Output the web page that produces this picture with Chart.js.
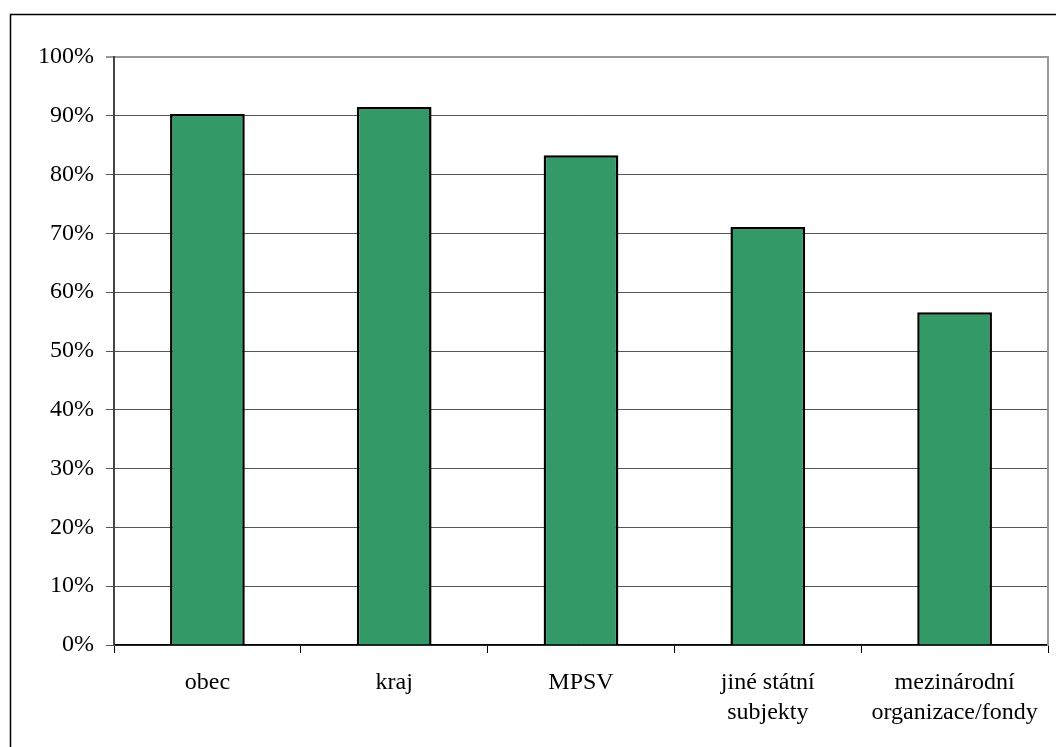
<!DOCTYPE html>
<html>
<head>
<meta charset="utf-8">
<script src="https://cdn.jsdelivr.net/npm/chart.js@4/dist/chart.umd.min.js"></script>
<style>
  html, body { margin: 0; padding: 0; background: #fff; }
  .chart { position: relative; width: 1056px; height: 747px; }
</style>
</head>
<body>
<div class="chart"><canvas id="chart"></canvas></div>
<script>
const categories = ['obec', 'kraj', 'MPSV', ['jiné státní', 'subjekty'], ['mezinárodní', 'organizace/fondy']];
const shares = [90.3, 91.5, 83.3, 71.1, 56.6];
const yTicks = [0, 10, 20, 30, 40, 50, 60, 70, 80, 90, 100];

const FONT = '"Liberation Serif", "Times New Roman", serif';

// thin frame along the top and left of the page
const frame = {
  id: 'frame',
  beforeDraw(chart) {
    const { ctx } = chart;
    ctx.save();
    ctx.strokeStyle = '#000';
    ctx.lineWidth = 1.5;
    ctx.beginPath();
    ctx.moveTo(10.5, chart.height);
    ctx.lineTo(10.5, 14.5);
    ctx.lineTo(chart.width, 14.5);
    ctx.stroke();
    ctx.restore();
  },
};

new Chart(document.getElementById('chart'), {
  type: 'bar',
  data: {
    labels: categories,
    datasets: [
      {
        data: shares,
        backgroundColor: '#339966',
        borderColor: '#000',
        borderWidth: 2.5,
        barPercentage: 0.4,
        categoryPercentage: 1,
      },
    ],
  },
  options: {
    responsive: true,
    maintainAspectRatio: false,
    animation: false,
    layout: { padding: { left: 0, top: 57, right: 8, bottom: 0 } },
    plugins: {
      legend: { display: false },
      tooltip: { enabled: false },
    },
    scales: {
      x: {
        afterFit: scale => { scale.height = 102; },
        grid: {
          drawOnChartArea: false,
          drawTicks: true,
          tickLength: 8,
          color: '#000',
        },
        border: { color: '#000', width: 1.5 },
        ticks: {
          color: '#000',
          padding: 15,
          maxRotation: 0,
          autoSkip: false,
          font: { family: FONT, size: 24, lineHeight: 1.25 },
        },
      },
      y: {
        min: 0,
        max: 100,
        afterFit: scale => { scale.width = 114; },
        afterBuildTicks: scale => {
          scale.ticks = yTicks.map(v => ({ value: v }));
        },
        grid: {
          tickLength: 8,
          color: ctx => (ctx.tick && ctx.tick.value === 100 ? '#999' : '#555'),
          lineWidth: ctx => (ctx.tick && ctx.tick.value === 100 ? 2 : 1),
        },
        border: { color: '#444', width: 2 },
        ticks: {
          color: '#000',
          padding: 12,
          font: { family: FONT, size: 24 },
          callback: v => v + '%',
        },
      },
      yRight: {
        position: 'right',
        min: 0,
        max: 100,
        afterFit: scale => { scale.width = 0; },
        grid: { display: false },
        ticks: { display: false },
        border: { color: '#999', width: 2 },
      },
    },
  },
  plugins: [frame],
});
</script>
</body>
</html>
